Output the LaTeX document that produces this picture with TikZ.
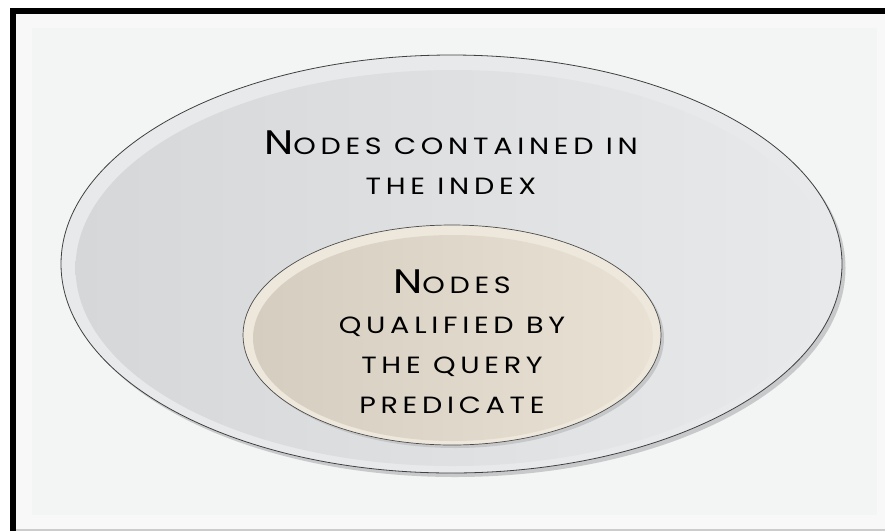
\documentclass[tikz,border=0pt]{standalone}
\usepackage{fontspec}
\setmainfont{Poppins}[LetterSpace=20, FakeStretch=1.22]
\usetikzlibrary{shapes.geometric}
\definecolor{panel}{HTML}{F3F4F4}
\definecolor{outerL}{HTML}{D6D7D9}
\definecolor{outerR}{HTML}{E8E9EA}
\definecolor{outerRim}{HTML}{E8E9EA}
\definecolor{outerShadow}{HTML}{C8C9CB}
\definecolor{innerL}{HTML}{D5CEC0}
\definecolor{innerR}{HTML}{E9E2D4}
\definecolor{innerRim}{HTML}{EEE8DC}
\definecolor{innerShadow}{HTML}{C6C7C9}
\newcommand\capL[1]{{\fontsize{34}{40}\selectfont #1}}
\tikzset{
  blob/.style={ellipse, inner sep=0pt, outer sep=0pt},
  label txt/.style={align=center, font=\fontsize{23.5}{40}\selectfont, text=black}
}
\begin{document}
\begin{tikzpicture}[x=1pt,y=-1pt]
\useasboundingbox (0,0) rectangle (885,531);
\fill[white] (0,0) rectangle (885,531);
% frame
\fill[black] (10,8) rectangle (885,14);
\fill[black] (10,8) rectangle (16,531);
\fill[gray!40] (16,529) rectangle (885,531);
\fill[panel!60!white] (16,14) rectangle (885,529);
\fill[panel] (32,28) rectangle (877,515);
% outer ellipse
\node[blob, fill=outerShadow, minimum width=781pt, minimum height=418pt] (outshadow) at (455,268) {};
\node[blob, fill=outerRim, draw=black!75, line width=0.8pt, minimum width=781pt, minimum height=418pt] (outer) at (451.5,264) {};
\node[blob, left color=outerL, right color=outerR, minimum width=755pt, minimum height=396pt] (outerface) at (453,268) {};
% inner ellipse
\node[blob, fill=innerShadow, minimum width=418pt, minimum height=220pt] (inshadow) at (455,338) {};
\node[blob, fill=innerRim, draw=black!70, line width=0.7pt, minimum width=418pt, minimum height=220pt] (inner) at (452,335) {};
\node[blob, left color=innerL, right color=innerR, minimum width=400pt, minimum height=206pt] (innerface) at (453,338) {};
% texts
\node[label txt, anchor=base] (t1) at (451,154) {\capL{N}ODES CONTAINED IN};
\node[label txt, anchor=base] (t2) at (451,194) {THE INDEX};
\node[label txt, anchor=base] (u1) at (452,293) {\capL{N}ODES};
\node[label txt, anchor=base] (u2) at (452,333) {QUALIFIED BY};
\node[label txt, anchor=base] (u3) at (452,373) {THE QUERY};
\node[label txt, anchor=base] (u4) at (452,413) {PREDICATE};
\end{tikzpicture}
\end{document}
